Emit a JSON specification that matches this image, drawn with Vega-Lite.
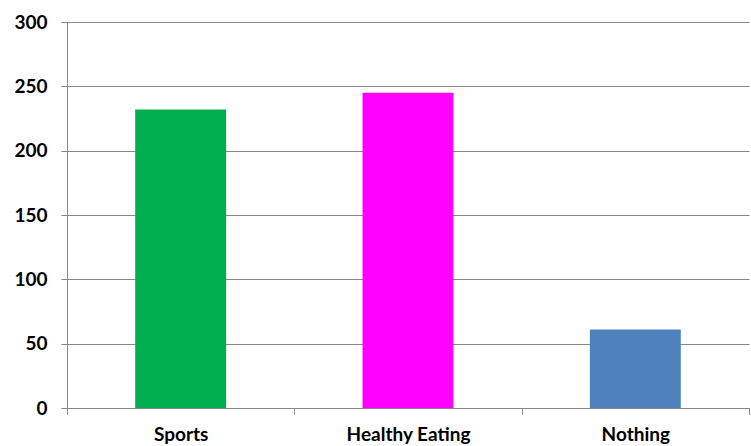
{
  "$schema": "https://vega.github.io/schema/vega-lite/v6.json",
  "width": 682,
  "height": 386,
  "autosize": {"type": "none"},
  "padding": {"left": 67, "top": 22, "right": 2, "bottom": 38},
  "background": "white",
  "data": {
    "values": [
      {"category": "Sports", "value": 232},
      {"category": "Healthy Eating", "value": 245},
      {"category": "Nothing", "value": 61}
    ]
  },
  "mark": {"type": "bar", "width": {"band": 0.4}},
  "encoding": {
    "x": {
      "field": "category",
      "type": "nominal",
      "sort": null,
      "scale": {"paddingInner": 0, "paddingOuter": 0},
      "axis": {
        "title": null,
        "labelAngle": 0,
        "labelFont": "Lato",
        "labelFontWeight": "bold",
        "labelFontSize": 19,
        "labelColor": "#000000",
        "labelPadding": 11,
        "tickSize": 6,
        "tickColor": "#888888",
        "domainColor": "#888888",
        "tickBand": "extent",
        "grid": false
      }
    },
    "y": {
      "field": "value",
      "type": "quantitative",
      "scale": {"domain": [0, 300], "nice": false},
      "axis": {
        "title": null,
        "values": [0, 50, 100, 150, 200, 250, 300],
        "labelFont": "Lato",
        "labelFontWeight": "bold",
        "labelFontSize": 19,
        "labelColor": "#000000",
        "labelPadding": 14,
        "tickSize": 6,
        "tickColor": "#888888",
        "domainColor": "#888888",
        "gridColor": "#888888",
        "gridOpacity": 1,
        "grid": true
      }
    },
    "color": {
      "field": "category",
      "type": "nominal",
      "scale": {
        "domain": ["Sports", "Healthy Eating", "Nothing"],
        "range": ["#00B050", "#FF00FF", "#4F81BD"]
      },
      "legend": null
    }
  },
  "config": {"view": {"stroke": null}}
}
